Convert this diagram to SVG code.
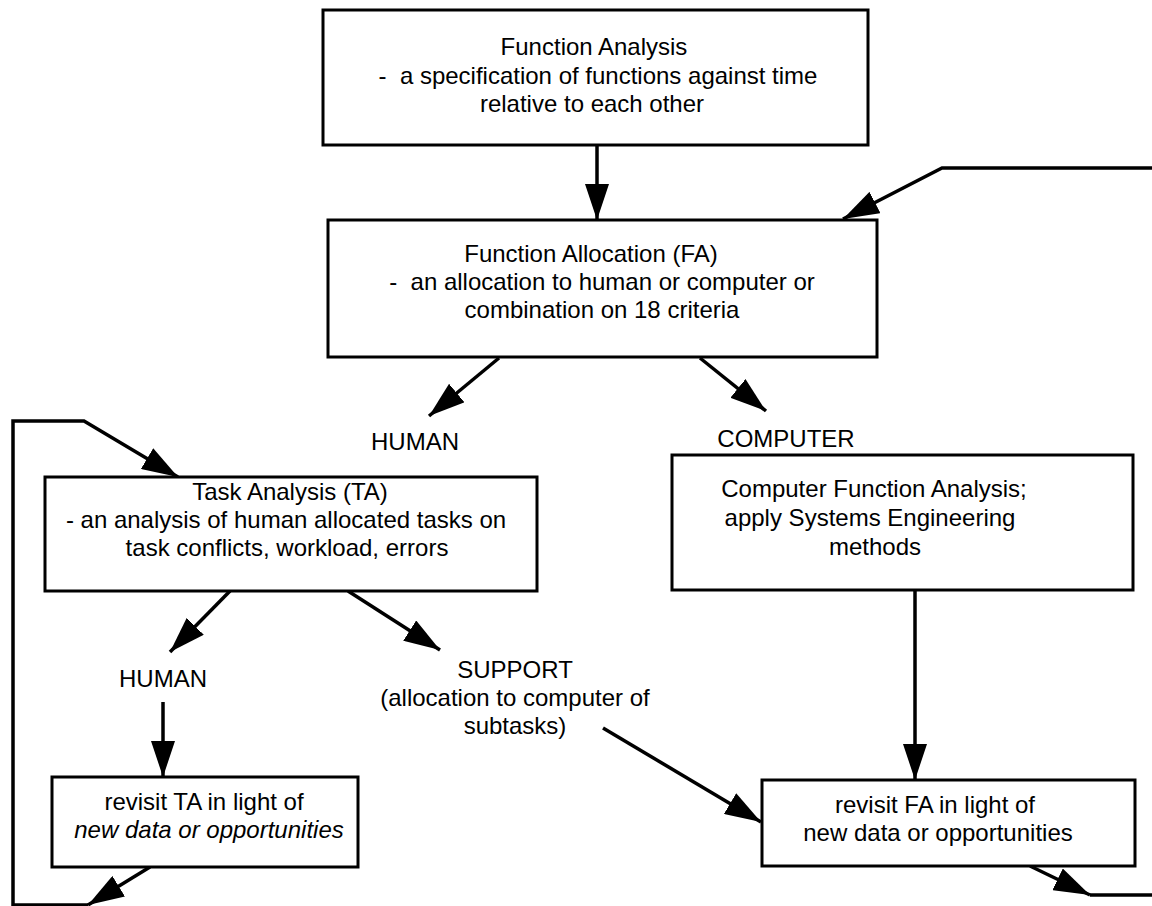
<svg xmlns="http://www.w3.org/2000/svg" width="1152" height="906" viewBox="0 0 1152 906">
<defs>
<marker id="ah" markerUnits="userSpaceOnUse" markerWidth="36" markerHeight="24" refX="36" refY="12" orient="auto">
<path d="M0,0 L36,12 L0,24 Z" fill="#000"/>
</marker>
<style>
.box{fill:#fff;stroke:#000;stroke-width:3}
.t{font-family:"Liberation Sans",Arial,Helvetica,sans-serif;font-size:24px;fill:#000;text-anchor:middle}
.i{font-style:italic}
.c{fill:none;stroke:#000;stroke-width:3.5}
.a{marker-end:url(#ah)}
</style>
</defs>
<rect width="1152" height="906" fill="#fff"/>
<g id="connectors">
<path class="c a" d="M597,145 L597,220"/>
<path class="c a" d="M499,358 L429,416"/>
<path class="c a" d="M700,358 L766,411"/>
<path class="c a" d="M1152,168 L942,168 L843,219"/>
<path class="c a" d="M88,905 L13,905 L13,421 L84,421 L178,477"/>
<path class="c a" d="M230,591 L170,652"/>
<path class="c a" d="M348,591 L440,650"/>
<path class="c a" d="M163,702 L163,777"/>
<path class="c a" d="M603,728 L761,822"/>
<path class="c a" d="M915,590 L915,780"/>
<path class="c a" d="M1030,866 L1090,895"/>
<path class="c" d="M1090,895 L1152,895"/>
<path class="c a" d="M150,867 L88,905"/>
</g>
<g id="function-analysis">
<rect class="box" x="323" y="10" width="545" height="135"/>
<text class="t" x="594" y="55">Function Analysis</text>
<text class="t" x="598" y="84" xml:space="preserve">-  a specification of functions against time</text>
<text class="t" x="592" y="112">relative to each other</text>
</g>
<g id="function-allocation">
<rect class="box" x="328" y="220" width="549" height="137"/>
<text class="t" x="591" y="262">Function Allocation (FA)</text>
<text class="t" x="602" y="290" xml:space="preserve">-  an allocation to human or computer or</text>
<text class="t" x="602" y="318">combination on 18 criteria</text>
</g>
<g id="label-human-1">
<text class="t" x="415" y="450">HUMAN</text>
</g>
<g id="label-computer">
<text class="t" x="786" y="447">COMPUTER</text>
</g>
<g id="task-analysis">
<rect class="box" x="45" y="477" width="492" height="114"/>
<text class="t" x="290" y="500">Task Analysis (TA)</text>
<text class="t" x="286" y="528">- an analysis of human allocated tasks on</text>
<text class="t" x="287" y="556">task conflicts, workload, errors</text>
</g>
<g id="computer-function-analysis">
<rect class="box" x="672" y="455" width="461" height="135"/>
<text class="t" x="874" y="497">Computer Function Analysis;</text>
<text class="t" x="870" y="526">apply Systems Engineering</text>
<text class="t" x="875" y="555">methods</text>
</g>
<g id="label-human-2">
<text class="t" x="163" y="687">HUMAN</text>
</g>
<g id="label-support">
<text class="t" x="515" y="678">SUPPORT</text>
<text class="t" x="515" y="706">(allocation to computer of</text>
<text class="t" x="515" y="734">subtasks)</text>
</g>
<g id="revisit-ta">
<rect class="box" x="52" y="777" width="306" height="90"/>
<text class="t" x="204" y="810">revisit TA in light of</text>
<text class="t i" x="209" y="838">new data or opportunities</text>
</g>
<g id="revisit-fa">
<rect class="box" x="762" y="780" width="373" height="86"/>
<text class="t" x="935" y="813">revisit FA in light of</text>
<text class="t" x="938" y="841">new data or opportunities</text>
</g>
</svg>
